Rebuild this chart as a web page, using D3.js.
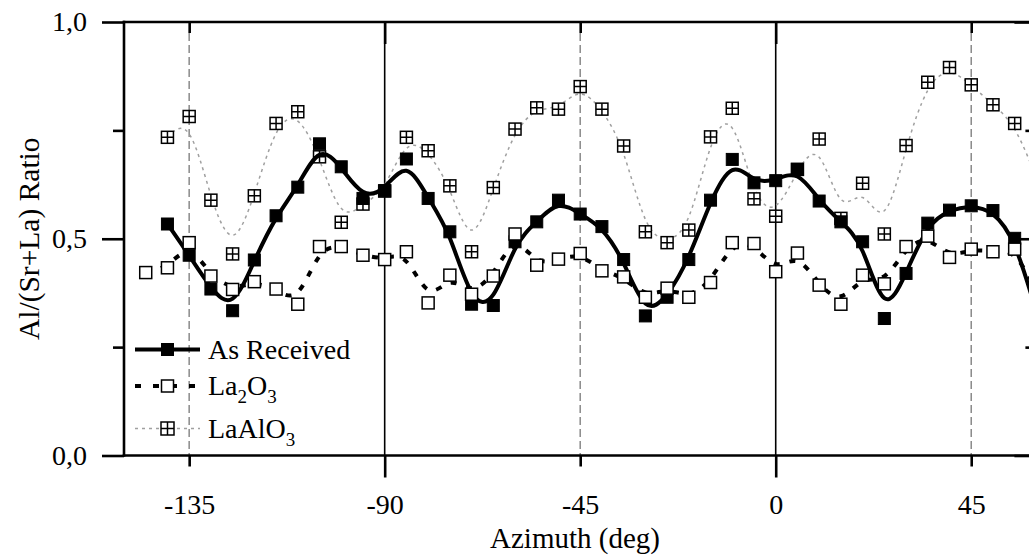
<!DOCTYPE html>
<html><head><meta charset="utf-8">
<script src="https://cdn.jsdelivr.net/npm/d3@7"></script>
<style>
body{margin:0;background:#fff}
svg{display:block}
text{font-family:"Liberation Serif","Times New Roman",serif;fill:#000}
</style>
</head><body>
<svg id="chart" width="1029" height="556"></svg>
<script>
// ---------------- data ----------------
const asReceivedAz = [-140,-135,-130,-125,-120,-115,-110,-105,-100,-95,-90,-85,-80,-75,-70,-65,-60,-55,-50,-45,-40,-35,-30,-25,-20,-15,-10,-5,0,5,10,15,20,25,30,35,40,45,50,55,60];
const asReceived = [0.534,0.462,0.384,0.334,0.451,0.553,0.619,0.719,0.666,0.593,0.611,0.684,0.593,0.516,0.349,0.346,0.493,0.539,0.589,0.557,0.528,0.452,0.322,0.365,0.452,0.589,0.683,0.629,0.634,0.660,0.587,0.539,0.493,0.316,0.420,0.536,0.566,0.576,0.565,0.501,0.330];

const la2o3Az = [-145,-140,-135,-130,-125,-120,-115,-110,-105,-100,-95,-90,-85,-80,-75,-70,-65,-60,-55,-50,-45,-40,-35,-30,-25,-20,-15,-10,-5,0,5,10,15,20,25,30,35,40,45,50,55,60];
const la2o3 = [0.422,0.433,0.491,0.414,0.383,0.401,0.384,0.349,0.482,0.482,0.462,0.452,0.470,0.352,0.416,0.372,0.414,0.511,0.439,0.453,0.466,0.426,0.412,0.365,0.386,0.365,0.399,0.491,0.489,0.424,0.467,0.393,0.349,0.416,0.396,0.482,0.506,0.457,0.476,0.470,0.476,0.380];

const laAlO3Az = [-140,-135,-130,-125,-120,-115,-110,-105,-100,-95,-90,-85,-80,-75,-70,-65,-60,-55,-50,-45,-40,-35,-30,-25,-20,-15,-10,-5,0,5,10,15,20,25,30,35,40,45,50,55,60];
const laAlO3 = [0.734,0.782,0.589,0.465,0.599,0.766,0.793,0.689,0.538,0.580,0.610,0.734,0.703,0.622,0.470,0.618,0.753,0.802,0.799,0.851,0.799,0.714,0.516,0.491,0.520,0.735,0.801,0.592,0.552,0.660,0.730,0.547,0.628,0.511,0.715,0.861,0.895,0.855,0.809,0.766,0.640];

const xTickLabels = [-135,-90,-45,0,45];
const xMajorTicks = [-90,0];
const xMinorTicks = [-135,-45,45];
const yMajorTicks = [0,0.5,1.0];
const yMinorTicks = [0.25,0.75];
const xDomain = [-150,60];
const yDomain = [0,1];

// ---------------- layout ----------------
const svg = d3.select("#chart");
const L = 124, R = 1036.4, T = 22, B = 455.5;
const x = d3.scaleLinear().domain(xDomain).range([L,R]);
const y = d3.scaleLinear().domain(yDomain).range([B,T]);
const fmt = d => d3.format(".1f")(d).replace(".", ",");

svg.append("defs").append("clipPath").attr("id","plotclip")
  .append("rect").attr("x",L).attr("y",T).attr("width",R-L).attr("height",B-T);

// grid / reference lines
const grid = svg.append("g");
grid.selectAll("line.maj").data(xMajorTicks).join("line")
  .attr("x1",d=>x(d)).attr("x2",d=>x(d)).attr("y1",T).attr("y2",B)
  .attr("stroke","#000").attr("stroke-width",1.6);
grid.selectAll("line.min").data(xMinorTicks).join("line")
  .attr("x1",d=>x(d)).attr("x2",d=>x(d)).attr("y1",T+11).attr("y2",B)
  .attr("stroke","#8a8a8a").attr("stroke-width",1.5).attr("stroke-dasharray","8,4");

// series helpers
const plot = svg.append("g").attr("clip-path","url(#plotclip)");
function series(az, vals){ return az.map((a,i)=>({a, v: vals[i]})); }
const line = d3.line().x(d=>x(d.a)).y(d=>y(d.v)).curve(d3.curveBasis);

function markerSquare(g, data, size, fill, sw){
  g.selectAll("rect").data(data).join("rect")
    .attr("x",d=>x(d.a)-size/2).attr("y",d=>y(d.v)-size/2)
    .attr("width",size).attr("height",size)
    .attr("fill",fill).attr("stroke","#000").attr("stroke-width",sw);
}
function markerCross(g, data, size){
  const m = g.selectAll("g").data(data).join("g")
    .attr("transform",d=>`translate(${x(d.a)},${y(d.v)})`);
  drawCross(m, size);
}
function drawCross(sel, size){
  const h = size/2;
  sel.append("rect").attr("x",-h).attr("y",-h).attr("width",size).attr("height",size)
    .attr("fill","#fff").attr("stroke","#000").attr("stroke-width",1.5);
  sel.append("line").attr("x1",0).attr("x2",0).attr("y1",-h).attr("y2",h).attr("stroke","#000").attr("stroke-width",1.5);
  sel.append("line").attr("x1",-h).attr("x2",h).attr("y1",0).attr("y2",0).attr("stroke","#000").attr("stroke-width",1.5);
}

const sLaAlO3 = series(laAlO3Az, laAlO3);
const sAR = series(asReceivedAz, asReceived);
const sLa2O3 = series(la2o3Az, la2o3);

// LaAlO3
plot.append("path").datum(sLaAlO3).attr("d",line).attr("fill","none")
  .attr("stroke","#a0a0a0").attr("stroke-width",1.5).attr("stroke-dasharray","3,4");
markerCross(plot.append("g"), sLaAlO3, 12);

// As received
plot.append("path").datum(sAR).attr("d",line).attr("fill","none")
  .attr("stroke","#000").attr("stroke-width",4);
markerSquare(plot.append("g"), sAR, 12, "#000", 1);

// La2O3
plot.append("path").datum(sLa2O3).attr("d",line).attr("fill","none")
  .attr("stroke","#000").attr("stroke-width",4).attr("stroke-dasharray","6,10");
markerSquare(plot.append("g"), sLa2O3, 12, "#fff", 1.5);

// ---------------- axes ----------------
function styleAxis(g){
  g.select(".domain").remove();
  g.selectAll(".tick line").attr("stroke","#000").attr("stroke-width",2.6);
  g.selectAll(".tick text").attr("font-size",28).attr("font-family",'"Liberation Serif",serif');
}
// bottom
const bx = svg.append("g").attr("transform",`translate(0,${B})`)
  .call(d3.axisBottom(x).tickValues(xTickLabels).tickSize(11).tickPadding(28).tickFormat(d => String(d)));
styleAxis(bx);
bx.selectAll(".tick line").attr("y2", d => xMajorTicks.includes(d) ? 22 : 11);
// top
const tx = svg.append("g").attr("transform",`translate(0,${T})`)
  .call(d3.axisTop(x).tickValues(xTickLabels).tickSize(-11).tickFormat(""));
styleAxis(tx);
tx.selectAll(".tick line").attr("y2", d => xMajorTicks.includes(d) ? 22 : 11);
// left
const ly = svg.append("g").attr("transform",`translate(${L},0)`)
  .call(d3.axisLeft(y).tickValues(yMajorTicks).tickSize(22).tickPadding(15).tickFormat(fmt));
styleAxis(ly);
const lym = svg.append("g").attr("transform",`translate(${L},0)`)
  .call(d3.axisLeft(y).tickValues(yMinorTicks).tickSize(11).tickFormat(""));
styleAxis(lym);
// right
const ry = svg.append("g").attr("transform",`translate(${R},0)`)
  .call(d3.axisRight(y).tickValues(yMajorTicks).tickSize(-22).tickFormat(""));
styleAxis(ry);
const rym = svg.append("g").attr("transform",`translate(${R},0)`)
  .call(d3.axisRight(y).tickValues(yMinorTicks).tickSize(-11).tickFormat(""));
styleAxis(rym);

// spines
const sp = svg.append("g").attr("stroke","#000").attr("stroke-width",2.6).attr("stroke-linecap","square");
sp.append("line").attr("x1",L).attr("x2",R).attr("y1",T).attr("y2",T);
sp.append("line").attr("x1",L).attr("x2",R).attr("y1",B).attr("y2",B);
sp.append("line").attr("x1",L).attr("x2",L).attr("y1",T).attr("y2",B);
sp.append("line").attr("x1",R).attr("x2",R).attr("y1",T).attr("y2",B);

// axis titles
svg.append("text").attr("x",575).attr("y",548).attr("text-anchor","middle")
  .attr("font-size",29).text("Azimuth (deg)");
svg.append("text").attr("transform",`translate(39,${(T+B)/2}) rotate(-90)`).attr("text-anchor","middle")
  .attr("font-size",29.5).text("Al/(Sr+La) Ratio");

// ---------------- legend ----------------
const lg = svg.append("g");
const lx0 = 135, lx1 = 200, lmx = 167.5, ltx = 208;
const rows = [349.5, 386, 428.5];
// As received
lg.append("line").attr("x1",lx0).attr("x2",lx1).attr("y1",rows[0]).attr("y2",rows[0]).attr("stroke","#000").attr("stroke-width",4);
lg.append("rect").attr("x",lmx-6.5).attr("y",rows[0]-6.5).attr("width",13).attr("height",13).attr("fill","#000");
lg.append("text").attr("x",ltx).attr("y",rows[0]+9).attr("font-size",28).text("As Received");
// La2O3
lg.append("line").attr("x1",lx0).attr("x2",lx1).attr("y1",rows[1]).attr("y2",rows[1]).attr("stroke","#000").attr("stroke-width",4).attr("stroke-dasharray","6,12");
lg.append("rect").attr("x",lmx-6).attr("y",rows[1]-6).attr("width",12).attr("height",12).attr("fill","#fff").attr("stroke","#000").attr("stroke-width",1.5);
const t2 = lg.append("text").attr("x",ltx).attr("y",rows[1]+9).attr("font-size",28);
t2.append("tspan").text("La");
t2.append("tspan").attr("font-size",19).attr("dy",8).text("2");
t2.append("tspan").attr("dy",-8).text("O");
t2.append("tspan").attr("font-size",19).attr("dy",8).text("3");
// LaAlO3
lg.append("line").attr("x1",lx0).attr("x2",lx1).attr("y1",rows[2]).attr("y2",rows[2]).attr("stroke","#a0a0a0").attr("stroke-width",1.5).attr("stroke-dasharray","3,4");
drawCross(lg.append("g").attr("transform",`translate(${lmx},${rows[2]})`), 13);
const t3 = lg.append("text").attr("x",ltx).attr("y",rows[2]+9).attr("font-size",28);
t3.append("tspan").text("LaAlO");
t3.append("tspan").attr("font-size",19).attr("dy",8).text("3");
</script>
</body></html>
